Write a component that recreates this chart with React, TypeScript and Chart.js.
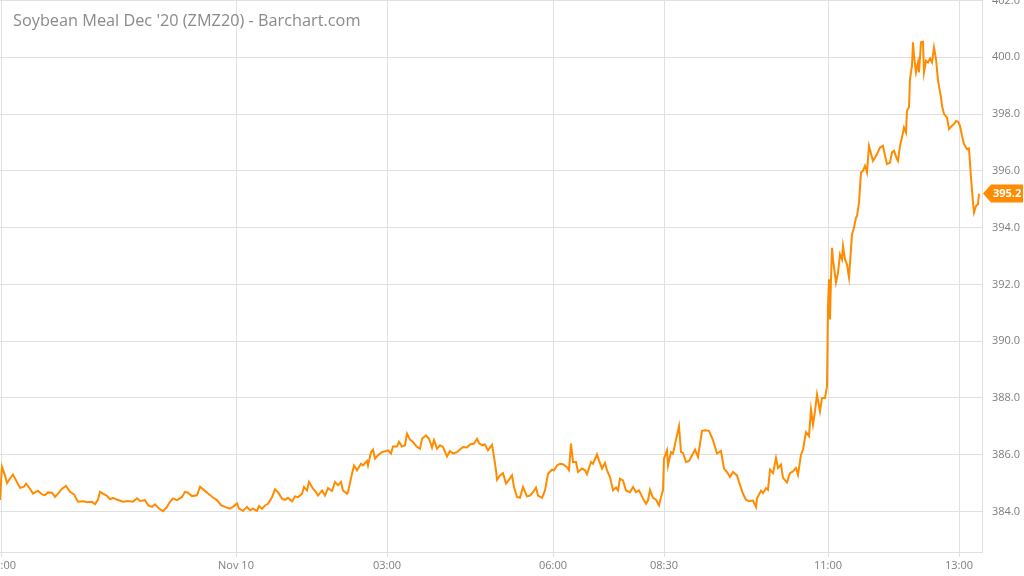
import React, { useEffect, useRef } from "react";
import { Chart, registerables } from "chart.js";

Chart.register(...registerables);

const chartTitle = "Soybean Meal Dec '20 (ZMZ20) - Barchart.com";

// session bar number (position in the intraday bar sequence)
const barIndex = [
  0, 2, 5, 7, 10, 13, 16, 20, 24, 26, 30, 33, 38, 42, 45, 48, 52, 55, 58, 62, 66, 70, 74, 78, 83, 87, 92, 95, 98, 100,
  103, 107, 110, 113, 118, 123, 128, 133, 137, 140, 145, 148, 152, 155, 159, 163, 167, 170, 173, 177, 182, 185, 188, 192, 197, 200, 204, 208, 213, 217,
  221, 225, 230, 233, 237, 239, 243, 247, 250, 253, 257, 259,
  262, 265, 268, 272, 275, 278, 282, 285, 288, 292, 295, 298, 302, 304, 307, 309, 313, 316, 318, 322, 325, 328, 332, 335, 338, 341, 343, 347, 348,
  352, 354, 357, 361, 363, 367, 368, 371, 373, 375, 378, 382, 385, 388, 391, 393, 397, 399, 402, 405, 407, 410, 413, 417, 420, 422, 426, 429, 432, 434,
  437, 440, 443, 447, 450, 453, 457, 460, 463, 467, 470, 474, 477, 479, 482, 485, 488, 492, 494, 496, 497, 500, 503, 506, 509,
  512, 514, 517, 520, 523, 527, 530, 533, 536, 538, 542, 545, 548, 552, 554, 557, 560, 563, 567, 569, 571, 573, 576, 578, 582, 585, 587, 591, 593, 597,
  599, 602, 605, 607, 610, 613, 616, 618, 620, 623, 626, 630, 633, 636, 639, 643, 646, 648, 650, 653, 656, 659, 661, 663, 664, 667, 668, 671, 673, 676,
  679, 681, 683, 686, 689, 693, 695, 698, 702, 705, 709, 713, 717, 721, 724, 727, 730, 733, 737, 739, 743, 746, 749,
  753, 756, 757, 761, 763, 766, 768, 770, 773, 776, 778, 781, 783, 787, 790, 793, 796, 798, 801, 803, 806, 809, 811, 813, 815, 817, 820, 822, 825, 827,
  828, 829, 830, 831, 832, 833, 836, 838, 840, 842, 843, 845, 847, 849, 852, 854, 856, 857, 859, 861, 863, 865, 867, 869,
  873, 877, 880, 883, 885, 887, 890, 892, 894, 897, 898, 900, 902, 904, 906, 907, 909, 910, 912, 913, 914, 916, 918, 919, 921, 923, 924, 926, 928, 930,
  932, 934, 936, 938, 941, 942, 944, 947, 949, 952, 954, 956, 958, 960, 962, 964, 967, 969, 971, 973, 974, 976, 978, 979,
];

const price = [
  384.4, 385.57, 385.27, 385.0, 385.16, 385.3, 385.1, 384.83, 384.87, 384.98, 384.8, 384.63, 384.73, 384.6, 384.57, 384.67, 384.66, 384.51, 384.63, 384.8, 384.9, 384.69, 384.6, 384.34, 384.36, 384.32, 384.34, 384.25, 384.42, 384.69,
  384.63, 384.55, 384.43, 384.48, 384.4, 384.34, 384.37, 384.34, 384.46, 384.37, 384.4, 384.22, 384.16, 384.25, 384.1, 384.01, 384.16, 384.34, 384.46, 384.4, 384.51, 384.69, 384.66, 384.54, 384.57, 384.87, 384.75, 384.63, 384.49, 384.4,
  384.22, 384.16, 384.1, 384.16, 384.28, 384.1, 384.02, 384.16, 384.04, 384.1, 384.02, 384.19,
  384.09, 384.21, 384.27, 384.5, 384.78, 384.68, 384.45, 384.41, 384.48, 384.35, 384.53, 384.5, 384.62, 384.86, 384.74, 385.04, 384.8, 384.68, 384.56, 384.74, 384.56, 384.82, 384.72, 385.04, 384.92, 385.04, 384.74, 384.62, 384.68,
  385.33, 385.62, 385.45, 385.68, 385.62, 385.78, 385.62, 386.09, 386.18, 385.86, 385.98, 386.09, 386.12, 386.15, 386.04, 386.29, 386.29, 386.45, 386.29, 386.33, 386.74, 386.53, 386.45, 386.27, 386.21, 386.56, 386.68, 386.56, 386.25, 386.51,
  386.21, 386.33, 386.27, 385.94, 386.13, 386.04, 386.09, 386.18, 386.27, 386.25, 386.36, 386.39, 386.56, 386.41, 386.33, 386.36, 386.15, 386.35, 385.92, 385.45, 385.12, 385.27, 385.35, 384.98, 385.12,
  385.27, 384.86, 384.51, 384.48, 384.86, 384.53, 384.56, 384.68, 384.84, 384.56, 384.48, 384.74, 385.33, 385.47, 385.45, 385.62, 385.68, 385.66, 385.56, 385.45, 386.39, 385.74, 385.74, 385.39, 385.51, 385.45, 385.31, 385.74, 385.68, 386.01,
  385.8, 385.51, 385.71, 385.45, 385.21, 384.74, 384.84, 384.74, 385.15, 385.09, 384.74, 384.68, 384.86, 384.68, 384.74, 384.45, 384.27, 384.39, 384.76, 384.48, 384.41, 384.21, 384.51, 384.74, 385.86, 386.15, 385.62, 386.09, 386.04, 386.53,
  387.0, 386.09, 386.06, 385.74, 385.78, 386.04, 386.18, 385.92, 386.84, 386.86, 386.84, 386.51, 386.04, 386.13, 385.51, 385.39, 385.21, 385.39, 385.27, 385.04, 384.62, 384.41, 384.36,
  384.38, 384.15, 384.46, 384.73, 384.65, 384.82, 384.76, 385.47, 385.35, 385.88, 385.53, 385.65, 385.18, 385.02, 385.35, 385.41, 385.53, 385.29, 386.0, 386.18, 386.79, 386.65, 387.59, 387.06, 387.53, 388.12, 387.53, 388.0, 388.0, 388.41,
  391.24, 392.18, 390.76, 392.18, 393.29, 392.88, 392.06, 392.41, 393.06, 392.88, 393.35, 392.88, 392.7, 392.24, 393.76, 394.0, 394.35, 394.41, 394.88, 395.94, 396.0, 396.18, 395.94, 396.88,
  396.35, 396.59, 396.82, 396.88, 396.53, 396.24, 396.29, 396.65, 396.71, 396.41, 396.35, 396.88, 397.18, 397.53, 397.35, 398.12, 398.24, 399.24, 399.71, 400.53, 400.06, 399.47, 399.82, 399.47, 400.53, 400.55, 399.47, 399.88, 399.82, 399.96,
  399.82, 400.35, 399.94, 399.18, 398.59, 398.29, 398.0, 397.88, 397.47, 397.59, 397.65, 397.76, 397.73, 397.59, 397.24, 396.94, 396.76, 396.79, 395.76, 394.88, 394.53, 394.76, 394.82, 395.2,
];

const xTickBars = [2, 236, 387, 553, 664, 828, 959];
const xTickLabels = ["21:00", "Nov 10", "03:00", "06:00", "08:30", "11:00", "13:00"];
const yTicks = [384, 386, 388, 390, 392, 394, 396, 398, 400, 402];
const xRange = [0, 982];
const yRange = [382.57, 402.02];

const LINE_COLOR = "#ff8c00";
const GRID_COLOR = "#e0e0e0";
const TICK_COLOR = "#7d7d7d";
const FONT = "'Open Sans', 'Noto Sans', sans-serif";

const lastTagPlugin = {
  id: "lastTag",
  afterDraw(chart: any) {
    const ctx = chart.ctx;
    const last = price[price.length - 1];
    const y = chart.scales.y.getPixelForValue(last);
    const x0 = chart.chartArea.right + 1;
    const h = 9;
    ctx.save();
    ctx.fillStyle = LINE_COLOR;
    ctx.beginPath();
    ctx.moveTo(x0, y);
    ctx.lineTo(x0 + 8, y - h);
    ctx.lineTo(chart.width - 1, y - h);
    ctx.lineTo(chart.width - 1, y + h);
    ctx.lineTo(x0 + 8, y + h);
    ctx.closePath();
    ctx.fill();
    ctx.fillStyle = "#ffffff";
    ctx.font = `bold 11px ${FONT}`;
    ctx.textAlign = "left";
    ctx.textBaseline = "middle";
    ctx.fillText(last.toFixed(1), x0 + 10, y + 0.5);
    ctx.restore();
  },
};

export default function App() {
  const canvasRef = useRef<HTMLCanvasElement | null>(null);

  useEffect(() => {
    if (!canvasRef.current) return;
    const data = barIndex.map((b, i) => ({ x: b, y: price[i] }));
    const chart = new Chart(canvasRef.current, {
      type: "line",
      data: {
        datasets: [
          {
            data,
            borderColor: LINE_COLOR,
            borderWidth: 2,
            pointRadius: 0,
            tension: 0,
            fill: false,
          },
        ],
      },
      options: {
        animation: false,
        responsive: true,
        maintainAspectRatio: false,
        layout: { padding: 0, autoPadding: false } as any,
        plugins: {
          legend: { display: false },
          tooltip: { enabled: false },
          title: { display: false },
        },
        scales: {
          x: {
            type: "linear",
            min: xRange[0],
            max: xRange[1],
            afterBuildTicks: (scale: any) => {
              scale.ticks = xTickBars.map((v) => ({ value: v }));
            },
            afterFit: (scale: any) => {
              scale.height = 24;
              scale.paddingLeft = 0;
              scale.paddingRight = 0;
              scale.paddingTop = 0;
              scale.paddingBottom = 0;
            },
            grid: { color: GRID_COLOR, drawTicks: true, tickLength: 5, lineWidth: 1 },
            border: { color: GRID_COLOR },
            ticks: {
              autoSkip: false,
              maxRotation: 0,
              padding: 2,
              color: TICK_COLOR,
              font: { family: FONT, size: 11 },
              callback: (_v: any, i: number) => xTickLabels[i],
            },
          },
          y: {
            type: "linear",
            position: "right",
            min: yRange[0],
            max: yRange[1],
            afterBuildTicks: (scale: any) => {
              scale.ticks = yTicks.map((v) => ({ value: v }));
            },
            afterFit: (scale: any) => {
              scale.width = 42;
              scale.paddingLeft = 0;
              scale.paddingRight = 0;
              scale.paddingTop = 0;
              scale.paddingBottom = 0;
            },
            grid: { color: GRID_COLOR, drawTicks: false, lineWidth: 1 },
            border: { color: GRID_COLOR },
            ticks: {
              padding: 10,
              color: TICK_COLOR,
              font: { family: FONT, size: 11 },
              callback: (v: any) => Number(v).toFixed(1),
            },
          },
        },
      },
      plugins: [lastTagPlugin],
    });
    return () => chart.destroy();
  }, []);

  return (
    <div style={{ position: "absolute", left: 0, top: 0, width: 1024, height: 576, background: "#fff" }}>
      <canvas ref={canvasRef} />
      <div
        style={{
          position: "absolute",
          left: 13,
          top: 9,
          fontFamily: FONT,
          fontSize: 16.3,
          color: "#8a8a8a",
          whiteSpace: "nowrap",
          pointerEvents: "none",
        }}
      >
        {chartTitle}
      </div>
    </div>
  );
}
